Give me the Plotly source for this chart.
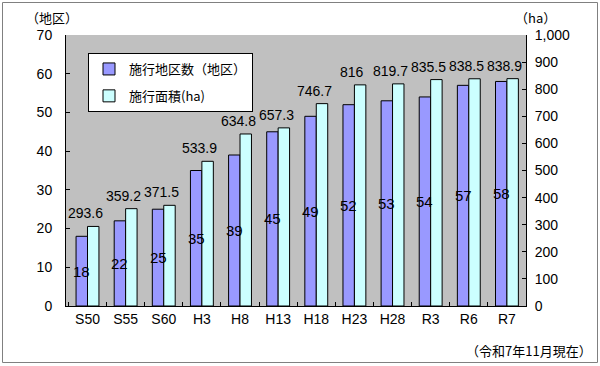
import plotly.graph_objects as go

categories = ["S50", "S55", "S60", "H3", "H8", "H13", "H18", "H23", "H28", "R3", "R6", "R7"]
districts = [18, 22, 25, 35, 39, 45, 49, 52, 53, 54, 57, 58]
area_ha = [293.6, 359.2, 371.5, 533.9, 634.8, 657.3, 746.7, 816, 819.7, 835.5, 838.5, 838.9]
area_labels = ["293.6", "359.2", "371.5", "533.9", "634.8", "657.3", "746.7", "816", "819.7", "835.5", "838.5", "838.9"]

FONT = "Liberation Sans, Noto Sans CJK JP, sans-serif"
JFONT = "Noto Sans CJK JP, sans-serif"

L, R, T, B = 66, 74, 35, 60
W, H = 600, 366
pw, ph = W - L - R, H - T - B
BARGAP = 0.4
cat_px = pw / len(categories)
bar_px = cat_px * (1 - BARGAP) / 2

fig = go.Figure()
fig.add_trace(go.Bar(
    x=categories, y=districts, name="施行地区数（地区）",
    marker=dict(color="#9999FF", line=dict(color="#000000", width=1)),
    offsetgroup="a", yaxis="y", legendgroup="a",
))
fig.add_trace(go.Bar(
    x=categories, y=area_ha, name="施行面積(ha)",
    marker=dict(color="#CCFFFF", line=dict(color="#000000", width=1)),
    offsetgroup="b", yaxis="y2", legendgroup="b",
))

for c, v in zip(categories, districts):
    fig.add_annotation(x=c, y=v / 2, yref="y", text=str(v), showarrow=False,
                       yanchor="middle", xanchor="center", xshift=-bar_px / 2,
                       font=dict(size=15, color="#000000", family=FONT))

for c, v, lab in zip(categories, area_ha, area_labels):
    fig.add_annotation(x=c, y=v, yref="y2", text=lab, showarrow=False,
                       yanchor="bottom", yshift=3, xshift=-2,
                       font=dict(size=14, color="#000000", family=FONT))

fig.update_layout(
    width=W, height=H,
    margin=dict(l=L, r=R, t=T, b=B),
    paper_bgcolor="#FFFFFF", plot_bgcolor="#C0C0C0",
    barmode="group", bargap=BARGAP, bargroupgap=0,
    font=dict(family=FONT, size=13, color="#000000"),
    showlegend=True,
    legend=dict(x=(88 - L) / pw, y=(H - B - 53) / ph, xanchor="left", yanchor="top",
                bgcolor="#FFFFFF", bordercolor="#000000", borderwidth=1,
                font=dict(size=13, family=JFONT),
                itemwidth=30, tracegroupgap=7, traceorder="grouped"),
    xaxis=dict(showline=True, linecolor="#000000", linewidth=1, ticks="inside",
               tickson="boundaries", ticklen=4, tickcolor="#000000", showgrid=False,
               tickfont=dict(size=14, family=FONT), mirror=False),
    yaxis=dict(range=[0, 70], dtick=10, showline=True, linecolor="#000000", linewidth=1,
               ticks="inside", ticklen=4, tickcolor="#000000", showgrid=False,
               zeroline=False, tickfont=dict(size=14, family=FONT), ticklabelstandoff=10),
    yaxis2=dict(range=[0, 1000], dtick=100, overlaying="y", side="right", showline=True,
                linecolor="#000000", linewidth=1, ticks="inside", ticklen=4,
                tickcolor="#000000", showgrid=False, zeroline=False, tickformat=",",
                tickfont=dict(size=14, family=FONT), ticklabelstandoff=5),
)

fig.add_annotation(xref="paper", yref="paper", x=(52 - L) / pw, y=(H - B - 17) / ph,
                   text="（地区）", showarrow=False, xanchor="center", yanchor="middle",
                   font=dict(size=13, family=JFONT))
fig.add_annotation(xref="paper", yref="paper", x=(535 - L) / pw, y=(H - B - 18) / ph,
                   text="（ha）", showarrow=False, xanchor="center", yanchor="middle",
                   font=dict(size=13, family=JFONT))
fig.add_annotation(xref="paper", yref="paper", x=(594 - L) / pw, y=(H - B - 350) / ph,
                   text="（令和7年11月現在）", showarrow=False, xanchor="right", yanchor="middle",
                   font=dict(size=13, family=JFONT))

fig.add_shape(type="rect", xref="paper", yref="paper",
              x0=(2.5 - L) / pw, x1=(597.5 - L) / pw, y0=(H - B - 362.5) / ph, y1=(H - B - 2.5) / ph,
              line=dict(color="#808080", width=1), fillcolor="rgba(0,0,0,0)", layer="above")

fig.write_html("out.html", config={"displayModeBar": False},
               post_script="document.body.style.margin='0';document.body.style.overflow='hidden';")
